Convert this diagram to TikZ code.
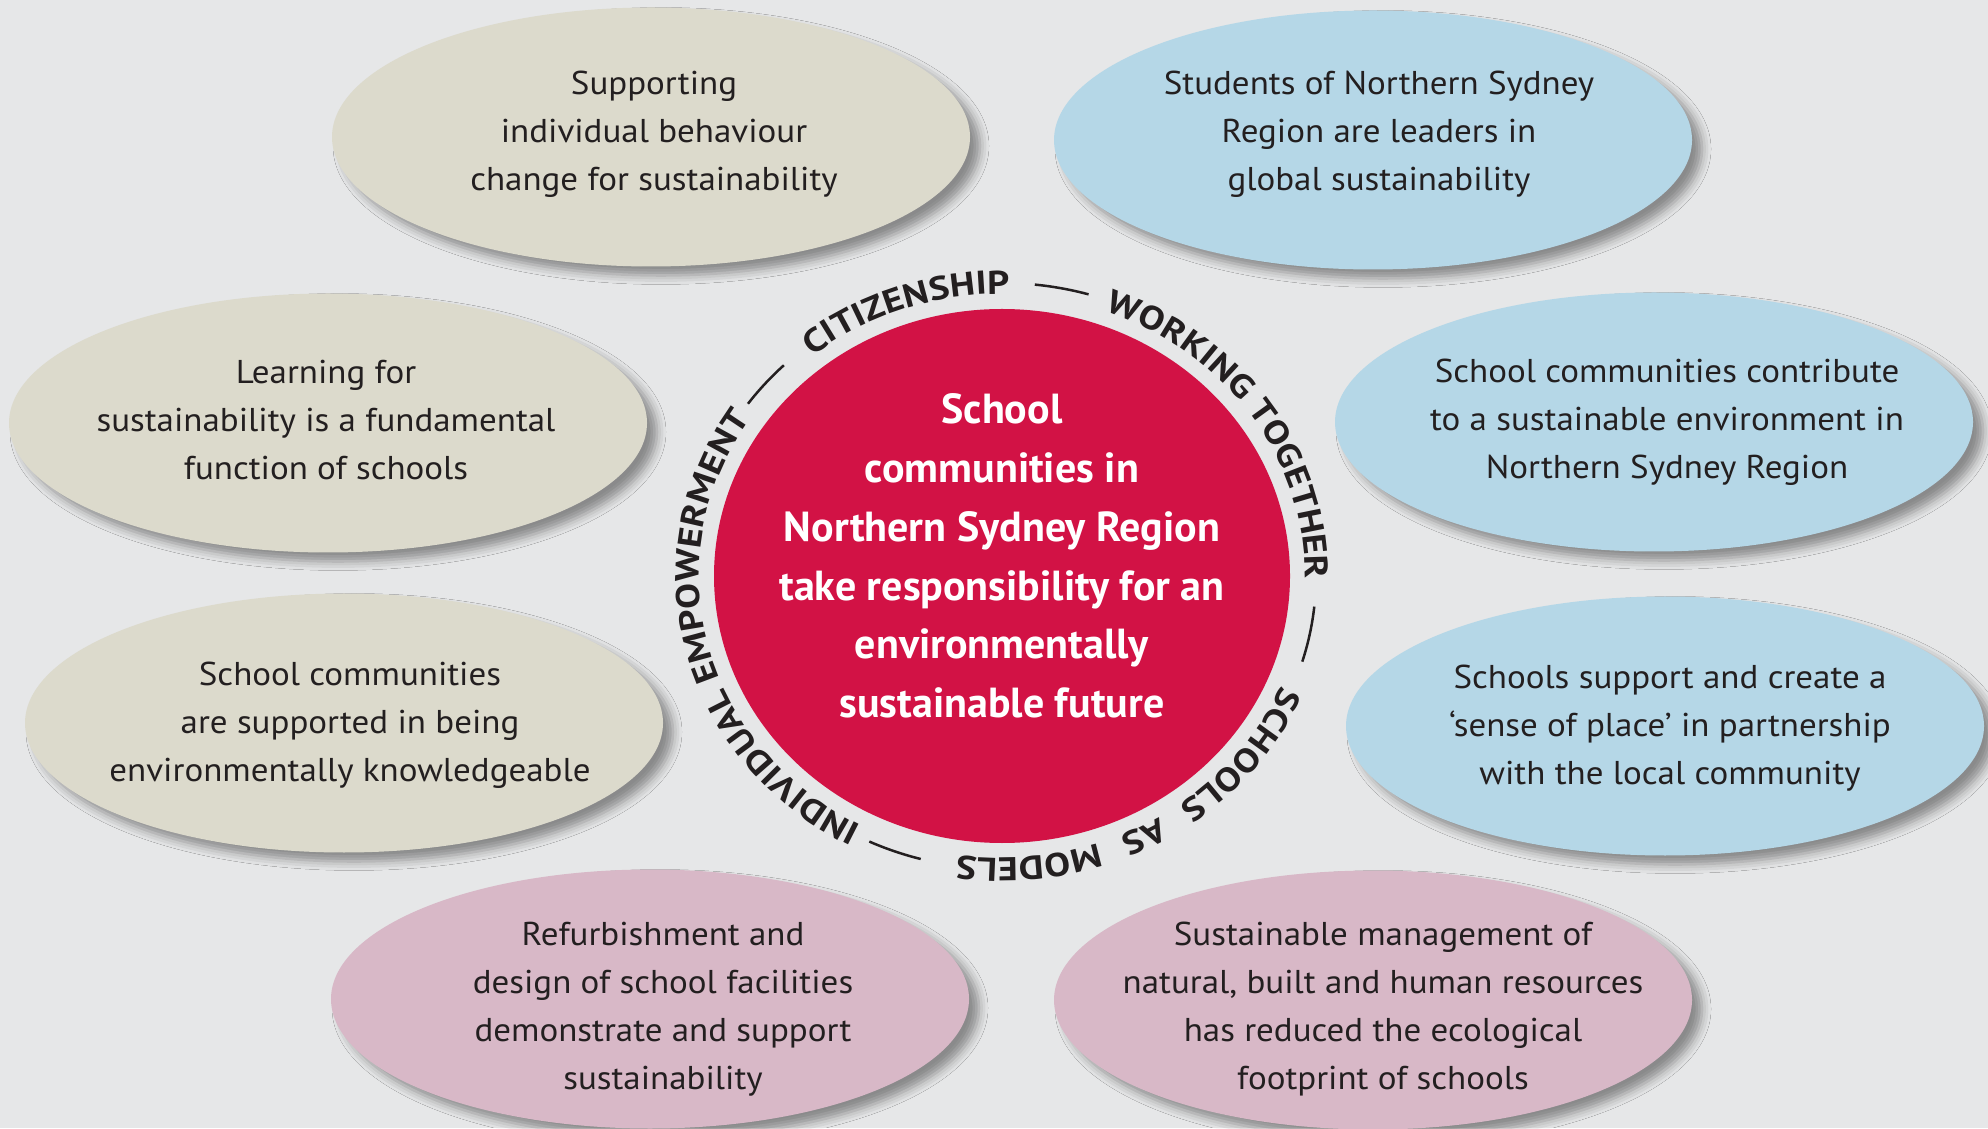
\documentclass[tikz,border=0pt]{standalone}
\usepackage{fontspec}
\setmainfont{PT Sans}[FakeStretch=1.06]
\newfontfamily\corefont{PT Sans}
\newfontfamily\ringfamily{PT Sans}[FakeStretch=1.17]
\usepackage{tikz}
\usetikzlibrary{shapes.geometric}
\usetikzlibrary{decorations.text}
\usetikzlibrary{shadows.blur}
\definecolor{paper}{HTML}{E6E7E8}
\definecolor{sand}{HTML}{DCDACC}
\definecolor{sky}{HTML}{B5D7E7}
\definecolor{mauve}{HTML}{D8B8C7}
\definecolor{crimson}{HTML}{D21245}
\definecolor{ink}{HTML}{231F20}
\newcommand{\ringfont}{\ringfamily\fontsize{33}{33}\selectfont\bfseries}
\newcommand{\wordgap}{{\kern 23pt}}
\tikzstyle{bubble} = [ellipse, minimum width=638pt, minimum height=259pt, inner sep=0pt, blur shadow={shadow xshift=10pt, shadow yshift=-9pt, shadow blur radius=9pt, shadow opacity=40}]
\tikzstyle{sandbubble} = [bubble, fill=sand]
\tikzstyle{skybubble} = [bubble, fill=sky]
\tikzstyle{mauvebubble} = [bubble, fill=mauve]
\tikzstyle{goal} = [text=ink, align=center, inner sep=0pt, font=\fontsize{33}{48}\selectfont]
\tikzstyle{hub} = [ellipse, minimum width=576pt, minimum height=534pt, inner sep=0pt, fill=crimson]
\tikzstyle{hubtext} = [text=white, align=center, inner sep=0pt, font=\corefont\bfseries\fontsize{42}{58.7}\selectfont]
\tikzstyle{ring} = [decorate, decoration={text along path, text align=center, text color=ink}]
\tikzstyle{ringdash} = [draw=ink, line width=2.5pt]

\begin{document}
\begin{tikzpicture}[x=1pt,y=1pt]
\useasboundingbox (0,0) rectangle (1988,1128);
\fill[paper] (0,0) rectangle (1988,1128);

\node (e1) [sandbubble] at (651,991) {};
\node (e2) [skybubble] at (1373,988) {};
\node (e3) [sandbubble] at (328,705) {};
\node (e4) [skybubble] at (1654,706) {};
\node (e5) [sandbubble] at (344,405) {};
\node (e6) [skybubble] at (1665,402) {};
\node (e7) [mauvebubble] at (650,129) {};
\node (e8) [mauvebubble] at (1373,128) {};

\node (t1) [goal] at ([xshift=3,yshift=3]e1.center) {Supporting\\individual behaviour\\change for sustainability};
\node (t2) [goal] at ([xshift=6,yshift=6]e2.center) {Students of Northern Sydney\\Region are leaders in\\global sustainability};
\node (t3) [goal] at ([xshift=-2,yshift=3]e3.center) {Learning for\\sustainability is a fundamental\\function of schools};
\node (t4) [goal] at ([xshift=13,yshift=0]e4.center) {School communities contribute\\to a sustainable environment in\\Northern Sydney Region};
\node (t5) [goal] at ([xshift=6,yshift=-2]e5.center) {School communities\\are supported in being\\environmentally knowledgeable};
\node (t6) [goal] at ([xshift=5,yshift=-2]e6.center) {Schools support and create a\\‘sense of place’ in partnership\\with the local community};
\node (t7) [goal] at ([xshift=13,yshift=-10]e7.center) {Refurbishment and\\design of school facilities\\demonstrate and support\\sustainability};
\node (t8) [goal] at ([xshift=10,yshift=-9]e8.center) {Sustainable management of\\natural, built and human resources\\has reduced the ecological\\footprint of schools};

\node (core) [hub] at (1002,552) {};
\node (msg) [hubtext] at ([yshift=20]core.center) {School\\communities in\\Northern Sydney Region\\take responsibility for an\\environmentally\\sustainable future};

\path[ring, shift={(core.center)}, decoration={text={|\ringfont|CITIZENSHIP}}] (169.5:303 and 282) arc[start angle=169.5, end angle=49.5, x radius=303pt, y radius=282pt];
\path[ring, shift={(core.center)}, decoration={text={|\ringfont|WORKING TOGETHER}}] (94:303 and 282) arc[start angle=94, end angle=-26, x radius=303pt, y radius=282pt];
\path[ring, shift={(core.center)}, decoration={text={|\ringfont|SCHOOLS\wordgap AS\wordgap MODELS}}] (0:303 and 282) arc[start angle=0, end angle=-120, x radius=303pt, y radius=282pt];
\path[ring, shift={(core.center)}, decoration={text={|\ringfont|INDIVIDUAL EMPOWERMENT}}] (254:303 and 282) arc[start angle=254, end angle=134, x radius=303pt, y radius=282pt];

\draw[ringdash, shift={(core.center)}] (84:314 and 293) arc[start angle=84, end angle=74, x radius=314pt, y radius=293pt];
\draw[ringdash, shift={(core.center)}] (-6:314 and 293) arc[start angle=-6, end angle=-17, x radius=314pt, y radius=293pt];
\draw[ringdash, shift={(core.center)}] (-115:314 and 293) arc[start angle=-115, end angle=-105, x radius=314pt, y radius=293pt];
\draw[ringdash, shift={(core.center)}] (144:314 and 293) arc[start angle=144, end angle=134, x radius=314pt, y radius=293pt];
\end{tikzpicture}
\end{document}
